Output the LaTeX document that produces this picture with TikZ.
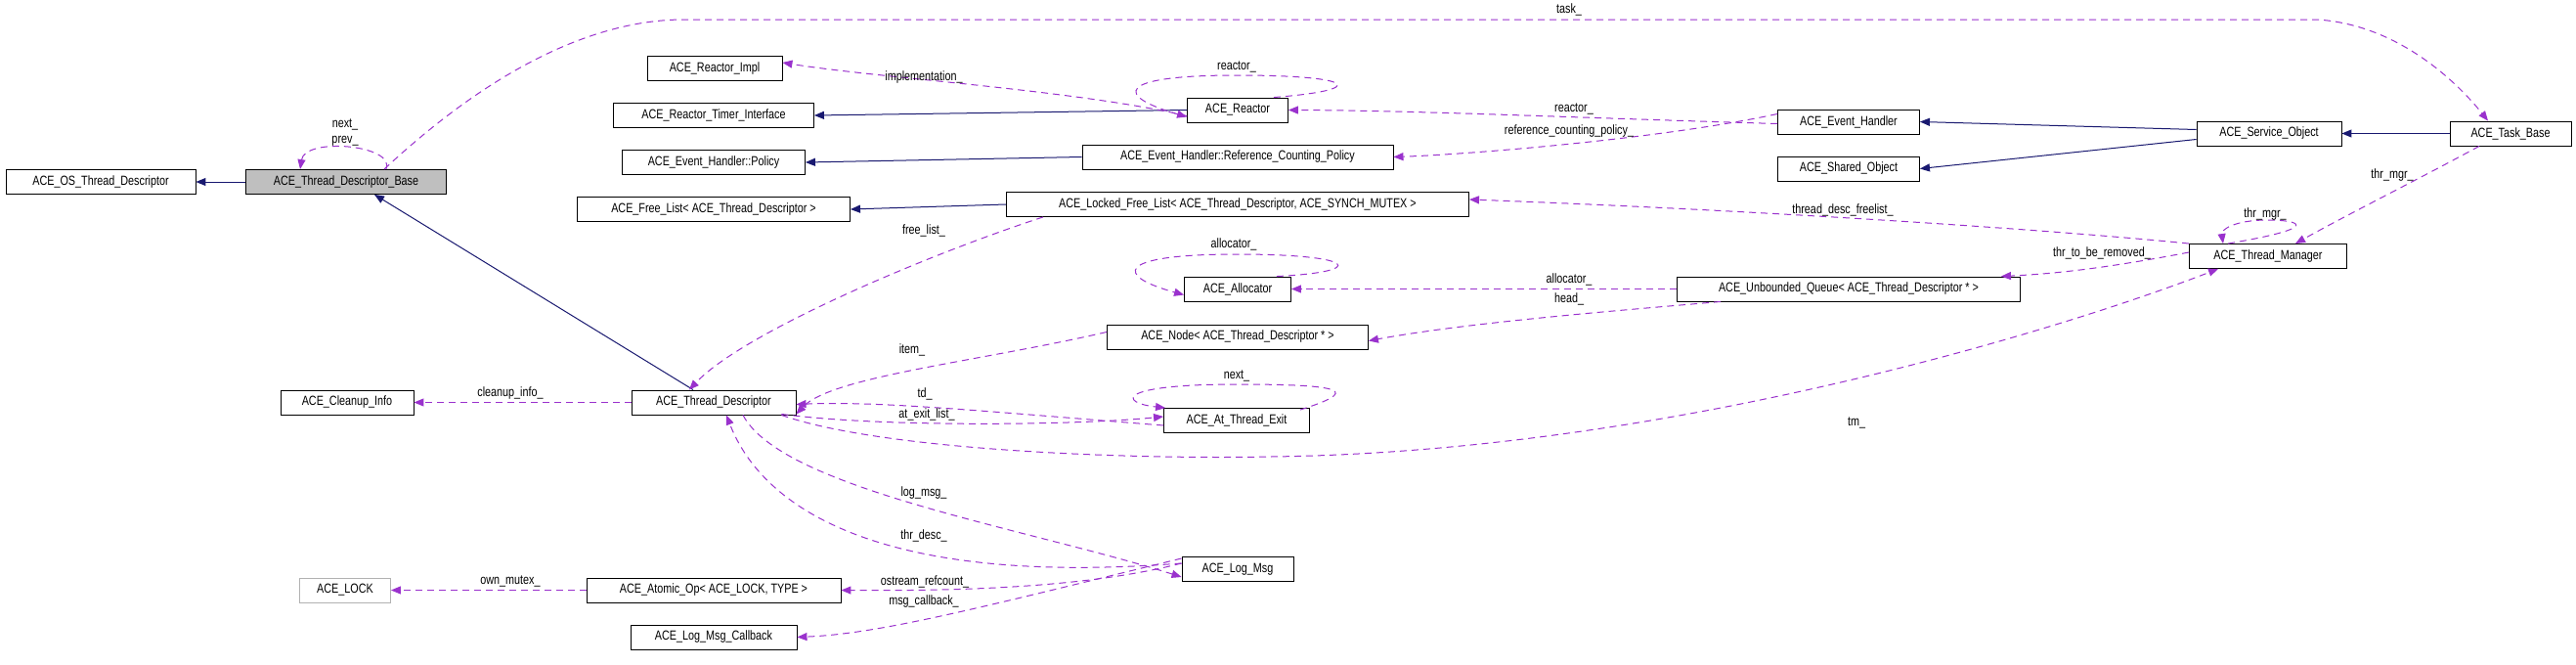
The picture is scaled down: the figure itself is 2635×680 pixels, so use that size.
\documentclass[tikz,border=0pt]{standalone}
\usepackage{fontspec}
\setmainfont{Liberation Sans}[FakeStretch=0.8]
\usetikzlibrary{arrows.meta,calc}
\definecolor{inhc}{HTML}{191970}
\definecolor{usec}{HTML}{9A32CD}
\begin{document}
\begin{tikzpicture}[x=1pt,y=-1pt,
  box/.style={draw=black,line width=0.9pt,inner sep=0pt,minimum height=25pt,font=\fontsize{13.5}{15}\selectfont},
  lbl/.style={inner sep=0pt,font=\fontsize{13.5}{15}\selectfont},
  inh/.style={draw=inhc,line width=1pt,-{Triangle[length=10pt,width=8pt]}},
  use/.style={draw=usec,line width=1pt,dash pattern=on 7pt off 5pt,-{Triangle[length=10pt,width=8pt]}}]
\useasboundingbox (0,0) rectangle (2635,680);
\fill[white] (0,0) rectangle (2635,680);
% nodes
\node[box,minimum width=194pt] (osd) at (103,186) {ACE\_OS\_Thread\_Descriptor};
\node[box,minimum width=205pt,fill=black!25] (tdb) at (354,186) {ACE\_Thread\_Descriptor\_Base};
\node[box,minimum width=138pt] (rimpl) at (731,70) {ACE\_Reactor\_Impl};
\node[box,minimum width=205pt] (rti) at (730,118) {ACE\_Reactor\_Timer\_Interface};
\node[box,minimum width=187pt] (pol) at (730,166) {ACE\_Event\_Handler::Policy};
\node[box,minimum width=279pt] (fl) at (730,214) {ACE\_Free\_List< ACE\_Thread\_Descriptor >};
\node[box,minimum width=103pt] (reac) at (1266,112.5) {ACE\_Reactor};
\node[box,minimum width=318pt] (rcp) at (1266,160.5) {ACE\_Event\_Handler::Reference\_Counting\_Policy};
\node[box,minimum width=473pt] (lfl) at (1266,209) {ACE\_Locked\_Free\_List< ACE\_Thread\_Descriptor, ACE\_SYNCH\_MUTEX >};
\node[box,minimum width=109pt] (alloc) at (1266,295.5) {ACE\_Allocator};
\node[box,minimum width=267pt] (nd) at (1266,344.5) {ACE\_Node< ACE\_Thread\_Descriptor * >};
\node[box,minimum width=351pt] (uq) at (1891,295.5) {ACE\_Unbounded\_Queue< ACE\_Thread\_Descriptor * >};
\node[box,minimum width=145pt] (eh) at (1891,124.5) {ACE\_Event\_Handler};
\node[box,minimum width=145pt] (so) at (1891,172.5) {ACE\_Shared\_Object};
\node[box,minimum width=148pt] (svc) at (2321,136.5) {ACE\_Service\_Object};
\node[box,minimum width=124pt] (task) at (2568,136.5) {ACE\_Task\_Base};
\node[box,minimum width=161pt] (tm) at (2320,262) {ACE\_Thread\_Manager};
\node[box,minimum width=136pt] (cln) at (355,411.5) {ACE\_Cleanup\_Info};
\node[box,minimum width=168pt] (td) at (730,411.5) {ACE\_Thread\_Descriptor};
\node[box,minimum width=149pt] (ate) at (1265,430) {ACE\_At\_Thread\_Exit};
\node[box,minimum width=114pt] (log) at (1266,582) {ACE\_Log\_Msg};
\node[box,minimum width=93pt,draw=black!30] (lock) at (353,603.5) {ACE\_LOCK};
\node[box,minimum width=260pt] (atom) at (730,603.5) {ACE\_Atomic\_Op< ACE\_LOCK, TYPE >};
\node[box,minimum width=170pt] (cb) at (730,651.5) {ACE\_Log\_Msg\_Callback};
% inheritance
\draw[inh] (tdb.west) -- (osd.east);
\draw[inh] ([xshift=-21]td.north) -- ([xshift=29]tdb.south);
\draw[inh] (reac.west) -- (rti.east);
\draw[inh] (rcp.west) -- (pol.east);
\draw[inh] (lfl.west) -- (fl.east);
\draw[inh] ([yshift=4]svc.west) -- (eh.east);
\draw[inh] ([yshift=-6]svc.west) -- (so.east);
\draw[inh] (task.west) -- (svc.east);
% usage
\draw[use] ([xshift=39]tdb.north) .. controls (450,120) and (570,20) .. (700,20) -- (2370,20) .. controls (2450,25) and (2510,80) .. ([xshift=-23]task.north);
\node[lbl] (l1) at (1605,10) {task\_};
\draw[use] ([xshift=41]tdb.north) .. controls (405,148) and (312,140) .. ([xshift=-47]tdb.north);
\node[lbl] (l2) at (353,127) {next\_};
\node[lbl] (l3) at (353,144) {prev\_};
\draw[use] ([yshift=-6]reac.west) .. controls (1100,92) and (900,80) .. ([yshift=6]rimpl.east);
\node[lbl] (l4) at (945,79) {implementation\_};
\draw[use] ([xshift=-15]reac.north east) .. controls (1400,92) and (1390,77) .. (1265,77) .. controls (1140,77) and (1140,98) .. ([yshift=-7]reac.west);
\node[lbl] (l5) at (1265,68) {reactor\_};
\draw[use] ([yshift=-2]eh.west) .. controls (1600,120) and (1450,113) .. (reac.east);
\node[lbl] (l6) at (1610,111) {reactor\_};
\draw[use] ([yshift=8]eh.west) .. controls (1700,142) and (1500,158) .. (rcp.east);
\node[lbl] (l7) at (1605,134) {reference\_counting\_policy\_};
\draw[use] ([xshift=0,yshift=0]tm.north west) .. controls (2100,235) and (1800,215) .. ([yshift=5]lfl.east);
\node[lbl] (l8) at (1885,215) {thread\_desc\_freelist\_};
\draw[use] ([xshift=-199]lfl.south) .. controls (950,260) and (760,340) .. ([xshift=-25]td.north);
\node[lbl] (l9) at (945,236) {free\_list\_};
\draw[use] (uq.west) -- (alloc.east);
\node[lbl] (l10) at (1605,286) {allocator\_};
\draw[use] ([xshift=-15]alloc.north east) .. controls (1400,278) and (1390,260) .. (1265,260) .. controls (1140,260) and (1140,282) .. ([yshift=-6]alloc.west);
\node[lbl] (l11) at (1262,250) {allocator\_};
\draw[use] ([xshift=45]uq.south west) .. controls (1650,318) and (1500,330) .. ([yshift=-4]nd.east);
\node[lbl] (l12) at (1605,306) {head\_};
\draw[use] ([xshift=40]tm.north west) .. controls (2380,232) and (2350,225) .. (2320,225) .. controls (2285,225) and (2272,235) .. ([xshift=-46]tm.north);
\node[lbl] (l13) at (2317,219) {thr\_mgr\_};
\draw[use] ([xshift=-32]task.south) .. controls (2480,180) and (2400,220) .. ([xshift=28]tm.north);
\node[lbl] (l14) at (2447,179) {thr\_mgr\_};
\draw[use] ([yshift=4]tm.west) .. controls (2150,275) and (2100,280) .. ([xshift=-20]uq.north east);
\node[lbl] (l15) at (2150,259) {thr\_to\_be\_removed\_};
\draw[use] ([xshift=-15]td.south east) .. controls (900,460) and (1150,470) .. (1300,467) .. controls (1700,462) and (2100,340) .. ([xshift=-51]tm.south);
\node[lbl] (l16) at (1899,432) {tm\_};
\draw[use] ([yshift=5]nd.west) .. controls (1000,370) and (850,385) .. ([yshift=-12]td.east);
\node[lbl] (l17) at (933,358) {item\_};
\draw[use] ([yshift=-5]ate.west) .. controls (1000,420) and (900,410) .. ([yshift=-2]td.east);
\node[lbl] (l18) at (946,403) {td\_};
\draw[use] ([xshift=-15,yshift=1]td.south east) .. controls (900,437) and (1100,435) .. ([yshift=4]ate.west);
\node[lbl] (l19) at (948,424) {at\_exit\_list\_};
\draw[use] ([xshift=-10,yshift=-2]ate.north east) .. controls (1390,400) and (1380,393) .. (1265,393) .. controls (1140,393) and (1145,412) .. ([xshift=2]ate.north west);
\node[lbl] (l20) at (1265,384) {next\_};
\draw[use] ([xshift=30]td.south) .. controls (800,500) and (1050,540) .. ([yshift=-8]log.west);
\node[lbl] (l21) at (945,504) {log\_msg\_};
\draw[use] ([yshift=6]log.west) .. controls (900,600) and (780,520) .. ([xshift=13]td.south);
\node[lbl] (l22) at (945,548) {thr\_desc\_};
\draw[use] ([yshift=6]log.west) .. controls (1100,604) and (950,604) .. (atom.east);
\node[lbl] (l23) at (946,595) {ostream\_refcount\_};
\draw[use] ([yshift=11]log.west) .. controls (1000,622) and (900,648) .. (cb.east);
\node[lbl] (l24) at (945,615) {msg\_callback\_};
\draw[use] (atom.west) -- (lock.east);
\node[lbl] (l25) at (522,594) {own\_mutex\_};
\draw[use] (td.west) -- (cln.east);
\node[lbl] (l26) at (522,402) {cleanup\_info\_};
\end{tikzpicture}
\end{document}
